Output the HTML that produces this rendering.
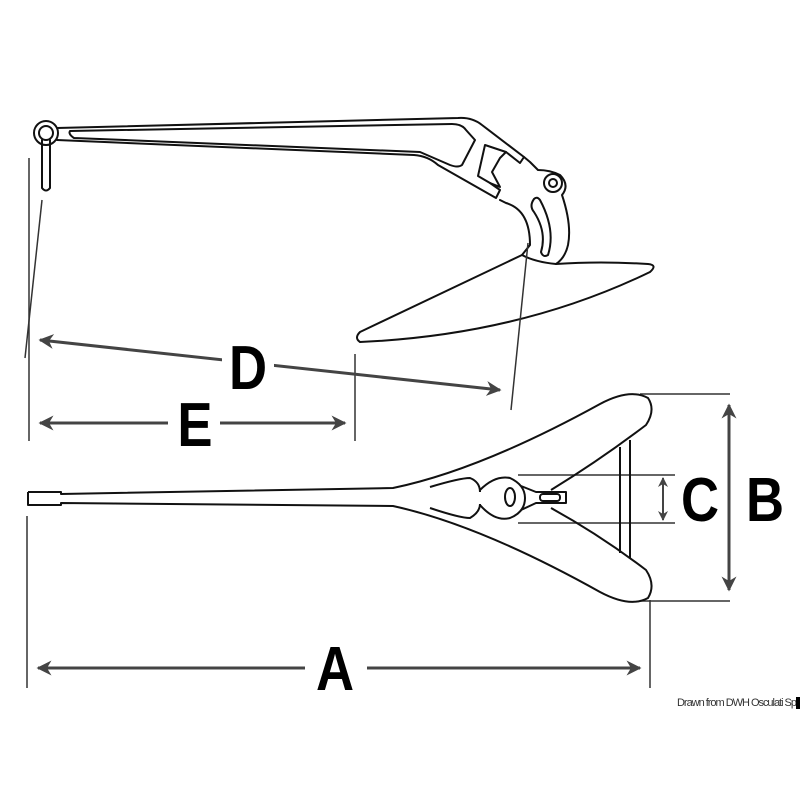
<!DOCTYPE html>
<html><head><meta charset="utf-8"><style>html,body{margin:0;padding:0;background:#fff}svg{display:block}</style></head>
<body>
<svg width="800" height="800" viewBox="0 0 800 800" xmlns="http://www.w3.org/2000/svg">
<defs>
<marker id="ah" viewBox="0 0 10 10" refX="9" refY="5" markerWidth="5" markerHeight="5" orient="auto-start-reverse"><path d="M0,0 L10,5 L0,10 L3,5 Z" fill="#444"/></marker>
</defs>
<g fill="none" stroke="#111" stroke-width="2" stroke-linejoin="round" stroke-linecap="round">
<circle cx="46" cy="133" r="12"/>
<circle cx="46" cy="133" r="7"/>
<path d="M42,140 L42,188 Q46,193 50,188 L50,140"/>
<path d="M57,128 L458,118 Q472,117 482,125 L524,157 L520,163 L506,152"/>
<path d="M57,140 L414,155 Q428,156 438,165 L496,198 L500,190 L490,183"/>
<path d="M70,131 L452,124 Q462,124 466,130 L475,140 L462,165 Q458,168 450,165 L420,152 L74,138 Q68,134 70,131 Z"/>
<path d="M485,145 L500,150 L506,152 L500,158 L492,172 L500,187 L490,183 L478,176 Z"/>
<path d="M524,157 L530,162 L538,170 Q550,170 560,175 Q570,185 562,195 Q572,225 568,245 Q565,258 556,264"/>
<circle cx="553" cy="183" r="9"/>
<circle cx="553" cy="183" r="4"/>
<path d="M534,199 Q529,206 534,212 Q547,232 541,252 Q543,258 548,255 Q556,230 540,200 Q537,196 534,199 Z"/>
<path d="M500,200 L506,203 Q530,210 530,245 L522,255 Q535,262 556,264"/>
<path d="M522,255 L360,332 Q354,338 360,342 Q520,335 650,272 Q658,265 648,264 Q600,261 556,264"/>
</g>
<g stroke="#333" stroke-width="1.5" fill="none">
<line x1="29" y1="158" x2="29" y2="441"/>
<line x1="42" y1="200" x2="25" y2="358"/>
<line x1="355" y1="354" x2="355" y2="441"/>
<line x1="528" y1="243" x2="511" y2="410"/>
<line x1="27" y1="516" x2="27" y2="688"/>
<line x1="650" y1="600" x2="650" y2="688"/>
<line x1="640" y1="394" x2="730" y2="394"/>
<line x1="640" y1="601" x2="730" y2="601"/>
<line x1="518" y1="475" x2="675" y2="475"/>
<line x1="518" y1="523" x2="675" y2="523"/>
</g>
<g stroke="#444" stroke-width="3" fill="none" marker-start="url(#ah)" marker-end="url(#ah)">
<path d="M40,340 L500,390"/>
<path d="M40,423 L345,423"/>
<path d="M38,668 L640,668"/>
<path d="M729,405 L729,590"/>
<path d="M663,478 L663,520" stroke-width="2"/>
</g>
<rect x="222" y="338" width="52" height="56" fill="#fff"/>
<rect x="168" y="398" width="52" height="52" fill="#fff"/>
<rect x="305" y="638" width="62" height="58" fill="#fff"/>
<g fill="none" stroke="#111" stroke-width="2" stroke-linejoin="round">
<path d="M28,492 L61,492 L61,494 L393,488 Q480,470 600,404 Q630,388 648,398 Q656,410 646,425 Q600,460 551,490"/>
<path d="M28,492 L28,505 L61,505 L61,503 L393,506 Q480,525 600,592 Q630,608 648,598 Q656,585 646,570 Q600,535 551,508"/>
<path d="M430,487 Q460,478 470,478 Q480,482 480,492"/>
<path d="M430,508 Q460,518 470,518 Q480,512 480,504"/>
<path d="M480,490 Q495,475 510,478 Q525,485 525,498 Q525,512 510,518 Q495,522 480,505"/>
<ellipse cx="510" cy="497" rx="5" ry="9"/>
<path d="M521,486 L536,492 L566,492 L566,503 L536,503 L521,510"/>
<rect x="540" y="494" width="20" height="7" rx="3"/>
<line x1="620" y1="447" x2="620" y2="553"/>
<line x1="630" y1="440" x2="630" y2="558"/>
</g>
<g font-family="Liberation Sans, sans-serif" font-weight="bold" fill="#000" font-size="62">
<text x="248" y="389" text-anchor="middle" transform="translate(248,0) scale(0.85,1) translate(-248,0)">D</text>
<text x="195" y="446" text-anchor="middle" transform="translate(195,0) scale(0.85,1) translate(-195,0)">E</text>
<text x="335" y="690" text-anchor="middle" transform="translate(335,0) scale(0.85,1) translate(-335,0)">A</text>
<text x="700" y="521" text-anchor="middle" transform="translate(700,0) scale(0.85,1) translate(-700,0)">C</text>
<text x="765" y="521" text-anchor="middle" transform="translate(765,0) scale(0.85,1) translate(-765,0)">B</text>
</g>
<text x="677" y="706" font-family="Liberation Sans, sans-serif" font-size="11" fill="#333" textLength="120">Drawn from DWH Osculati Sp</text>
<rect x="796" y="697" width="4" height="12" fill="#000"/>
</svg>
</body></html>
